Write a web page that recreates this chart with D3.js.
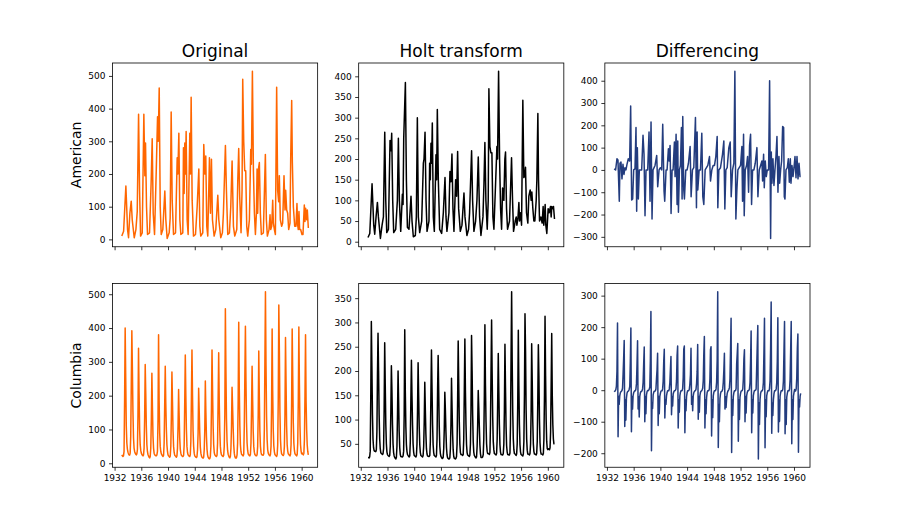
<!DOCTYPE html>
<html><head><meta charset="utf-8">
<script src="https://cdn.jsdelivr.net/npm/d3@7/dist/d3.min.js"></script>
<style>body{margin:0;background:#fff}svg{display:block}text{font-family:"DejaVu Sans",sans-serif}</style>
</head><body><svg id="c" width="900" height="525"></svg>
<script>
// ---------------- data ----------------
const colTitles = ["Original", "Holt transform", "Differencing"];
const rowTitles = ["American", "Columbia"];
const xTicks = [1932, 1936, 1940, 1944, 1948, 1952, 1956, 1960];

// American: [decimal year, value] vertices
const americanOriginal = [[1933.08,10],[1933.35,25],[1933.69,163],[1933.94,30],[1934.09,5],[1934.29,80],[1934.49,117],[1934.64,60],[1934.94,5],[1935.19,30],[1935.39,85],[1935.59,383],[1935.74,150],[1935.89,10],[1936.14,20],[1936.38,383],[1936.53,195],[1936.63,295],[1936.78,100],[1936.93,15],[1937.23,20],[1937.48,180],[1937.63,308],[1937.78,80],[1937.98,15],[1938.23,205],[1938.43,375],[1938.53,300],[1938.68,463],[1938.83,100],[1938.98,15],[1939.22,30],[1939.52,148],[1939.67,60],[1939.87,3],[1940.17,20],[1940.32,65],[1940.47,390],[1940.62,120],[1940.82,15],[1941.12,20],[1941.37,250],[1941.47,200],[1941.62,325],[1941.77,60],[1941.92,15],[1942.21,20],[1942.31,280],[1942.41,140],[1942.51,295],[1942.61,200],[1942.71,330],[1942.86,60],[1943.01,15],[1943.26,325],[1943.36,200],[1943.46,435],[1943.61,120],[1943.81,10],[1944.11,15],[1944.36,100],[1944.61,215],[1944.76,40],[1944.9,10],[1945.2,20],[1945.35,290],[1945.5,200],[1945.65,255],[1945.8,40],[1945.95,10],[1946.2,250],[1946.35,80],[1946.5,245],[1946.65,60],[1946.9,10],[1947.15,30],[1947.45,135],[1947.6,60],[1947.89,5],[1948.14,20],[1948.29,80],[1948.59,287],[1948.74,150],[1948.94,15],[1949.19,20],[1949.39,100],[1949.59,240],[1949.79,40],[1949.99,10],[1950.29,30],[1950.44,180],[1950.58,278],[1950.73,130],[1950.93,20],[1951.08,150],[1951.18,490],[1951.33,300],[1951.48,210],[1951.63,210],[1951.78,40],[1951.93,10],[1952.18,60],[1952.38,275],[1952.48,230],[1952.63,514],[1952.78,210],[1952.93,80],[1953.08,15],[1953.23,80],[1953.33,215],[1953.42,80],[1953.57,220],[1953.67,235],[1953.82,80],[1953.97,15],[1954.27,20],[1954.57,260],[1954.72,60],[1954.87,10],[1955.12,30],[1955.27,75],[1955.37,30],[1955.52,40],[1955.67,120],[1955.77,50],[1955.92,30],[1956.07,15],[1956.26,465],[1956.41,150],[1956.56,115],[1956.66,195],[1956.81,60],[1957.01,40],[1957.16,50],[1957.36,195],[1957.51,90],[1957.61,150],[1957.76,90],[1957.91,80],[1958.06,30],[1958.26,50],[1958.36,245],[1958.51,425],[1958.61,235],[1958.76,100],[1958.96,40],[1959.15,40],[1959.3,110],[1959.4,45],[1959.5,30],[1959.6,85],[1959.7,30],[1959.85,30],[1960.05,15],[1960.2,15],[1960.4,105],[1960.5,55],[1960.6,95],[1960.75,60],[1960.85,90],[1961.0,35]];

const americanHolt = [[1933.08,10],[1933.35,20],[1933.69,140],[1933.94,40],[1934.09,18],[1934.29,60],[1934.49,95],[1934.64,60],[1934.94,8],[1935.19,40],[1935.39,60],[1935.59,265],[1935.74,100],[1935.89,22],[1936.14,30],[1936.38,245],[1936.53,220],[1936.63,262],[1936.78,100],[1936.93,22],[1937.23,30],[1937.48,100],[1937.63,250],[1937.78,100],[1937.98,25],[1938.23,115],[1938.33,90],[1938.43,250],[1938.68,385],[1938.83,150],[1938.98,35],[1939.22,30],[1939.52,110],[1939.67,50],[1939.87,12],[1940.17,15],[1940.32,60],[1940.47,300],[1940.62,60],[1940.82,22],[1941.12,50],[1941.37,190],[1941.47,200],[1941.62,265],[1941.77,100],[1941.92,25],[1942.21,50],[1942.31,190],[1942.41,150],[1942.51,238],[1942.61,190],[1942.71,287],[1942.86,60],[1943.01,25],[1943.26,210],[1943.36,150],[1943.46,320],[1943.61,150],[1943.81,30],[1944.11,20],[1944.36,70],[1944.61,155],[1944.76,60],[1944.9,25],[1945.2,70],[1945.35,170],[1945.5,145],[1945.65,212],[1945.8,80],[1945.95,25],[1946.2,150],[1946.35,110],[1946.5,218],[1946.65,80],[1946.9,25],[1947.15,40],[1947.45,118],[1947.6,60],[1947.89,15],[1948.14,30],[1948.29,70],[1948.59,220],[1948.74,100],[1948.94,25],[1949.19,50],[1949.39,100],[1949.59,205],[1949.79,60],[1949.99,15],[1950.29,60],[1950.44,140],[1950.58,240],[1950.73,100],[1950.93,30],[1951.08,100],[1951.18,370],[1951.33,230],[1951.48,215],[1951.63,215],[1951.78,60],[1951.93,30],[1952.18,140],[1952.38,230],[1952.48,200],[1952.63,412],[1952.78,200],[1952.93,80],[1953.08,30],[1953.23,130],[1953.33,110],[1953.42,100],[1953.57,200],[1953.67,217],[1953.82,80],[1953.97,30],[1954.27,50],[1954.57,203],[1954.72,100],[1954.87,25],[1955.12,50],[1955.27,60],[1955.37,40],[1955.52,55],[1955.67,95],[1955.77,50],[1955.92,70],[1956.07,40],[1956.26,342],[1956.41,155],[1956.56,160],[1956.66,180],[1956.81,70],[1957.01,45],[1957.16,110],[1957.36,125],[1957.51,100],[1957.61,120],[1957.76,80],[1957.91,50],[1958.06,50],[1958.26,100],[1958.36,150],[1958.51,310],[1958.61,150],[1958.76,50],[1958.96,60],[1959.15,45],[1959.3,85],[1959.4,40],[1959.5,60],[1959.6,90],[1959.7,40],[1959.85,20],[1960.05,80],[1960.2,70],[1960.4,85],[1960.5,60],[1960.6,85],[1960.75,80],[1960.85,85],[1961.0,55]];

const americanDiff = [[1933.08,5],[1933.3,0],[1933.5,50],[1933.65,45],[1933.85,-140],[1933.95,30],[1934.1,35],[1934.25,-40],[1934.4,25],[1934.55,-20],[1934.7,10],[1934.85,0],[1935.0,25],[1935.2,50],[1935.4,40],[1935.55,287],[1935.7,-135],[1935.85,-130],[1936.0,0],[1936.2,5],[1936.35,190],[1936.45,-185],[1936.55,100],[1936.7,-130],[1936.85,0],[1937.2,0],[1937.4,155],[1937.55,70],[1937.7,-205],[1937.85,0],[1938.1,0],[1938.3,170],[1938.45,-140],[1938.6,215],[1938.75,-220],[1938.9,0],[1939.2,20],[1939.45,65],[1939.6,-75],[1939.8,0],[1940.0,10],[1940.2,0],[1940.35,205],[1940.55,-95],[1940.65,-140],[1940.85,0],[1941.0,0],[1941.2,95],[1941.3,40],[1941.45,110],[1941.6,-195],[1941.75,0],[1941.9,0],[1942.1,125],[1942.2,-30],[1942.35,160],[1942.5,-155],[1942.6,130],[1942.7,-190],[1942.85,0],[1943.0,20],[1943.15,190],[1943.25,-130],[1943.35,240],[1943.5,-90],[1943.6,-130],[1943.8,0],[1944.0,0],[1944.2,30],[1944.45,105],[1944.6,-120],[1944.8,0],[1945.0,10],[1945.25,235],[1945.4,-170],[1945.5,170],[1945.6,-90],[1945.8,0],[1946.0,0],[1946.2,165],[1946.35,-120],[1946.5,-155],[1946.7,0],[1946.9,10],[1947.1,20],[1947.35,60],[1947.5,-50],[1947.7,0],[1947.9,20],[1948.1,20],[1948.3,60],[1948.5,150],[1948.6,-170],[1948.75,0],[1949.0,10],[1949.3,70],[1949.5,130],[1949.65,-175],[1949.8,0],[1950.0,10],[1950.25,100],[1950.45,125],[1950.6,-120],[1950.8,0],[1951.0,30],[1951.15,442],[1951.3,-220],[1951.45,-90],[1951.6,0],[1951.8,10],[1952.0,20],[1952.2,105],[1952.3,-140],[1952.45,160],[1952.55,-205],[1952.7,0],[1952.9,20],[1953.05,60],[1953.2,-100],[1953.35,110],[1953.5,160],[1953.65,-155],[1953.8,0],[1954.0,0],[1954.2,30],[1954.45,100],[1954.6,-120],[1954.8,0],[1955.0,20],[1955.2,40],[1955.3,-50],[1955.45,70],[1955.55,-80],[1955.7,40],[1955.85,-30],[1956.0,0],[1956.2,0],[1956.35,400],[1956.5,-307],[1956.6,80],[1956.7,-60],[1956.85,50],[1957.0,-70],[1957.15,0],[1957.3,60],[1957.45,150],[1957.6,-100],[1957.75,60],[1957.85,-60],[1958.0,0],[1958.15,40],[1958.3,195],[1958.45,190],[1958.55,-120],[1958.65,-130],[1958.8,0],[1959.0,10],[1959.15,50],[1959.3,-55],[1959.45,50],[1959.55,-60],[1959.7,20],[1959.85,-30],[1960.0,10],[1960.15,60],[1960.3,-35],[1960.45,60],[1960.6,-40],[1960.75,30],[1960.9,-30],[1961.0,-30]];

// Columbia: monthly values, Jan 1933 .. Dec 1960 (one line per year)
const columbiaOriginal = [
25,22,20,22,35,187,400,252,110,60,42,33,
28,25,24,30,80,234,392,277,150,75,45,35,
30,27,25,28,40,143,340,208,100,55,38,30,
26,24,22,25,45,135,292,207,110,55,35,26,
22,18,16,20,45,129,266,166,80,45,30,25,
24,22,22,25,35,130,380,188,90,50,35,28,
25,22,20,24,60,170,287,175,100,55,35,25,
22,20,18,22,50,140,270,182,95,50,32,24,
22,20,18,22,45,111,218,140,75,42,30,24,
22,20,20,24,55,180,320,200,100,50,32,25,
23,21,20,25,65,195,335,200,95,50,30,22,
20,18,17,20,40,89,222,157,90,48,30,22,
18,16,15,18,40,98,243,151,80,42,25,18,
15,13,14,20,50,165,335,215,110,55,32,25,
23,21,20,24,60,189,327,182,95,50,32,25,
23,21,20,24,50,145,457,275,130,65,38,27,
22,18,16,20,45,108,225,165,105,55,30,20,
16,15,17,25,60,189,417,219,110,55,35,27,
25,23,22,27,110,257,405,243,120,60,38,28,
25,23,22,26,60,159,287,187,95,50,33,26,
24,22,22,26,50,144,332,197,95,50,33,26,
25,24,24,28,100,302,507,289,140,70,40,30,
26,24,22,26,50,169,397,214,100,52,34,26,
24,22,20,25,55,188,468,331,150,70,40,28,
26,24,23,27,50,142,372,239,110,55,36,28,
26,24,22,26,55,179,397,259,120,60,38,28,
26,24,22,26,60,185,403,233,110,55,36,28,
30,27,25,30,70,202,380,183,100,55,35,25];

const columbiaHolt = [
22,22,21,23,35,150,302,210,110,60,42,36,
35,35,34,38,75,190,278,200,110,60,40,32,
30,29,28,30,40,120,258,170,90,50,33,28,
26,25,24,26,45,115,211,160,90,50,32,25,
22,20,19,22,45,110,200,140,75,42,28,24,
24,23,23,25,35,110,285,160,85,48,34,28,
26,24,23,25,55,140,222,150,90,50,33,26,
25,24,23,26,50,120,217,150,85,48,32,26,
25,24,23,26,45,95,177,120,70,40,29,25,
25,24,24,26,55,150,243,165,90,48,32,26,
25,24,23,26,60,160,232,160,85,45,30,24,
22,20,20,22,40,80,156,120,75,42,27,21,
20,19,19,21,40,90,185,125,70,38,24,20,
20,19,20,24,50,140,262,175,95,50,32,28,
28,27,26,28,60,160,266,160,90,48,32,27,
26,25,24,27,50,120,273,200,110,55,33,26,
24,22,21,23,45,90,160,125,85,48,30,22,
22,22,23,28,60,150,295,170,95,50,35,30,
30,29,28,32,90,200,305,195,105,55,38,30,
29,28,27,30,60,140,236,160,90,48,33,28,
28,27,27,30,50,120,255,165,85,46,33,28,
28,27,27,31,90,230,363,220,115,60,38,30,
29,28,26,29,50,135,284,170,90,48,33,28,
27,26,25,29,55,150,318,240,120,60,37,29,
29,28,27,30,50,115,256,180,95,50,34,29,
29,28,27,30,55,140,254,190,100,52,35,29,
29,28,27,30,60,150,313,190,100,55,40,38,
40,39,38,42,75,170,277,150,90,60,50,50];

const columbiaDiff = [
-5,-3,-2,2,13,60,213,-148,-20,-45,-18,-9,
-5,-3,-1,6,50,100,158,-115,-30,-95,-25,-10,
-5,-3,-2,3,12,90,197,-132,-20,-60,-17,-8,
-4,-2,-2,3,20,80,157,-60,-20,-85,-20,-9,
-4,-4,-2,4,25,84,137,-100,-20,-75,-15,-5,
-1,-2,0,3,10,95,250,-192,-40,-58,-15,-7,
-3,-3,-2,4,36,65,117,-112,-20,-75,-20,-10,
-3,-2,-2,4,28,90,130,-88,-30,-45,-18,-8,
-2,-2,-2,4,23,66,107,-78,-20,-50,-12,-6,
-2,-2,0,4,31,110,140,-120,-30,-70,-18,-7,
-2,-2,-1,5,40,130,140,-135,-30,-65,-20,-8,
-2,-2,-1,3,20,49,133,-45,-20,-65,-18,-8,
-4,-2,-1,3,22,58,145,-92,-20,-70,-17,-7,
-3,-2,1,6,30,115,170,-120,-30,-75,-23,-7,
-2,-2,-1,4,36,129,138,-145,-30,-87,-18,-7,
-2,-2,-1,4,26,95,312,-182,-45,-100,-27,-11,
-5,-4,-2,4,25,63,117,-60,-20,-55,-25,-10,
-4,-1,2,8,35,129,228,-198,-30,-80,-20,-8,
-2,-2,-1,5,83,115,148,-162,-30,-93,-22,-10,
-3,-2,-1,4,34,99,128,-100,-20,-72,-17,-7,
-2,-2,0,4,24,94,188,-135,-30,-72,-17,-7,
-1,-1,0,4,72,140,205,-218,-40,-109,-30,-10,
-4,-2,-2,4,24,119,228,-183,-30,-84,-18,-8,
-2,-2,-2,5,30,133,280,-137,-40,-80,-30,-12,
-2,-2,-1,4,23,92,230,-133,-30,-99,-19,-8,
-2,-2,-2,4,29,124,218,-138,-30,-109,-22,-10,
-2,-2,-2,4,34,125,218,-170,-30,-93,-19,-8,
2,-3,-2,5,40,132,178,-197,-30,-53,-20,-10];

const monthTimes = d3.range(columbiaOriginal.length).map(i => 1933 + (i + 1) / 12);

const yTicks = [
  [[0,100,200,300,400,500],[0,50,100,150,200,250,300,350,400],[-300,-200,-100,0,100,200,300,400]],
  [[0,100,200,300,400,500],[50,100,150,200,250,300,350],[-200,-100,0,100,200,300]]
];
const seriesColors = ["#ff6600", "#000000", "#233c7e"];

// ---------------- layout ----------------
const svg = d3.select("#c");
const figL = 112.5, figR = 810, figT = 63, figB = 467.25;
const aw = (figR - figL) / (3 + 2 * 0.2), ah = (figB - figT) / (2 + 0.2);

const rows = [
  [americanOriginal, americanHolt, americanDiff],
  [columbiaOriginal, columbiaHolt, columbiaDiff].map(arr => arr.map((v, i) => [monthTimes[i], v]))
];

const allT = monthTimes;
const tMin = d3.min(allT), tMax = d3.max(allT), tPad = (tMax - tMin) * 0.05;
const minus = v => (v < 0 ? "\u2212" + Math.abs(v) : String(v));

rows.forEach((row, r) => {
  row.forEach((pts, c) => {
    const x0 = figL + c * aw * 1.2, y0 = figT + r * ah * 1.2;
    const x = d3.scaleLinear().domain([tMin - tPad, tMax + tPad]).range([x0, x0 + aw]);
    const ext = d3.extent(pts, d => d[1]);
    const yp = (ext[1] - ext[0]) * 0.05;
    const y = d3.scaleLinear().domain([ext[0] - yp, ext[1] + yp]).range([y0 + ah, y0]);
    const g = svg.append("g");

    g.append("path").datum(pts)
      .attr("d", d3.line().x(d => x(d[0])).y(d => y(d[1])))
      .attr("fill", "none").attr("stroke", seriesColors[c])
      .attr("stroke-width", 1.5).attr("stroke-linejoin", "round");

    g.append("rect").attr("x", x0).attr("y", y0).attr("width", aw).attr("height", ah)
      .attr("fill", "none").attr("stroke", "#000").attr("stroke-width", 0.8);

    const ya = d3.axisLeft(y).tickValues(yTicks[r][c]).tickFormat(minus).tickSize(3.5).tickPadding(3.5);
    const yg = g.append("g").attr("transform", `translate(${x0},0)`).call(ya);
    const xa = d3.axisBottom(x).tickValues(xTicks).tickFormat(r === 1 ? d3.format("d") : () => "").tickSize(3.5).tickPadding(3.5);
    const xg = g.append("g").attr("transform", `translate(0,${y0 + ah})`).call(xa);
    [yg, xg].forEach(a => {
      a.select(".domain").remove();
      a.selectAll("line").attr("stroke", "#000").attr("stroke-width", 0.8);
      a.selectAll("text").attr("fill", "#000").style("font-size", "9px").style("font-family", "DejaVu Sans");
    });

    if (r === 0) {
      g.append("text").attr("x", x0 + aw / 2).attr("y", y0 - 6)
        .attr("text-anchor", "middle").style("font-size", "17px").text(colTitles[c]);
    }
    if (c === 0) {
      g.append("text").attr("transform", `translate(81,${y0 + ah / 2}) rotate(-90)`)
        .attr("text-anchor", "middle").style("font-size", "14px").text(rowTitles[r]);
    }
  });
});
</script></body></html>
